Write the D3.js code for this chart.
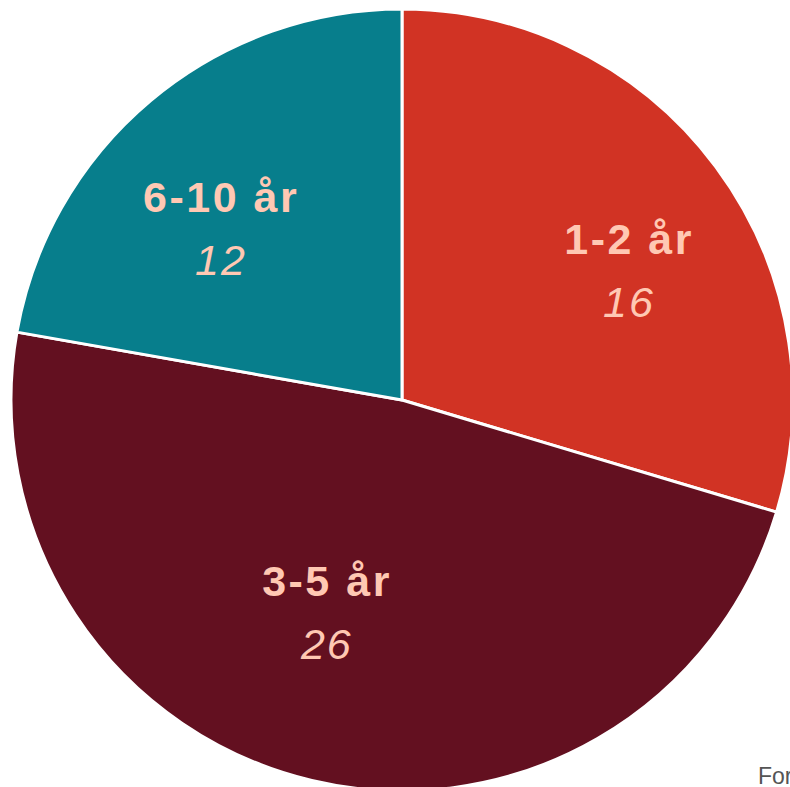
<!DOCTYPE html>
<html><head><meta charset="utf-8">
<script src="https://cdn.jsdelivr.net/npm/d3@7"></script>
<style>html,body{margin:0;padding:0;background:#fff;overflow:hidden}svg{display:block}</style>
</head><body>
<svg id="c" width="790" height="787"></svg>
<script>
const categories = ["1-2 år", "3-5 år", "6-10 år"];
const values = [16, 26, 12];
const colors = ["#d13324", "#631020", "#077e8c"];
const sourceText = "Forsvaret";

const W = 790, H = 787;
const cx = 402, cy = 400, R = 391;
// label anchor (angle offset in degrees, radius fraction) per slice
const labelPlace = [[3.8, 0.688], [7.9, 0.538], [-4.1, 0.669]];
const FONT = "'Liberation Sans', Arial, Helvetica, sans-serif";

const svg = d3.select("#c");
const g = svg.append("g").attr("transform", `translate(${cx},${cy})`);
const data = categories.map((c, i) => ({ name: c, value: values[i], color: colors[i] }));
const pie = d3.pie().value(d => d.value).sort(null);
const arcs = pie(data);
const arc = d3.arc().innerRadius(0).outerRadius(R);

g.selectAll("path").data(arcs).join("path")
  .attr("d", arc)
  .attr("fill", d => d.data.color)
  .attr("stroke", "#fff")
  .attr("stroke-width", 3)
  .attr("stroke-linejoin", "round");

arcs.forEach((a, i) => {
  const mid = (a.startAngle + a.endAngle) / 2 + labelPlace[i][0] * Math.PI / 180;
  const r = R * labelPlace[i][1];
  const x = Math.sin(mid) * r, y = -Math.cos(mid) * r;
  g.append("text").attr("text-anchor", "middle")
    .attr("font-family", FONT).attr("fill", "#ffc8b3")
    .attr("x", x + 1.2).attr("y", y)
    .attr("font-size", 43).attr("font-weight", 700)
    .attr("letter-spacing", 2.5).text(a.data.name);
  g.append("text").attr("text-anchor", "middle")
    .attr("font-family", FONT).attr("fill", "#ffc8b3")
    .attr("x", x + 1).attr("y", y + 63)
    .attr("font-size", 43).attr("font-style", "italic").attr("font-weight", 400)
    .attr("letter-spacing", 2).text(a.data.value);
});

svg.append("text").attr("x", 758).attr("y", 784)
  .attr("font-family", FONT)
  .attr("font-size", 23).attr("fill", "#555").text(sourceText);
</script>
</body></html>
